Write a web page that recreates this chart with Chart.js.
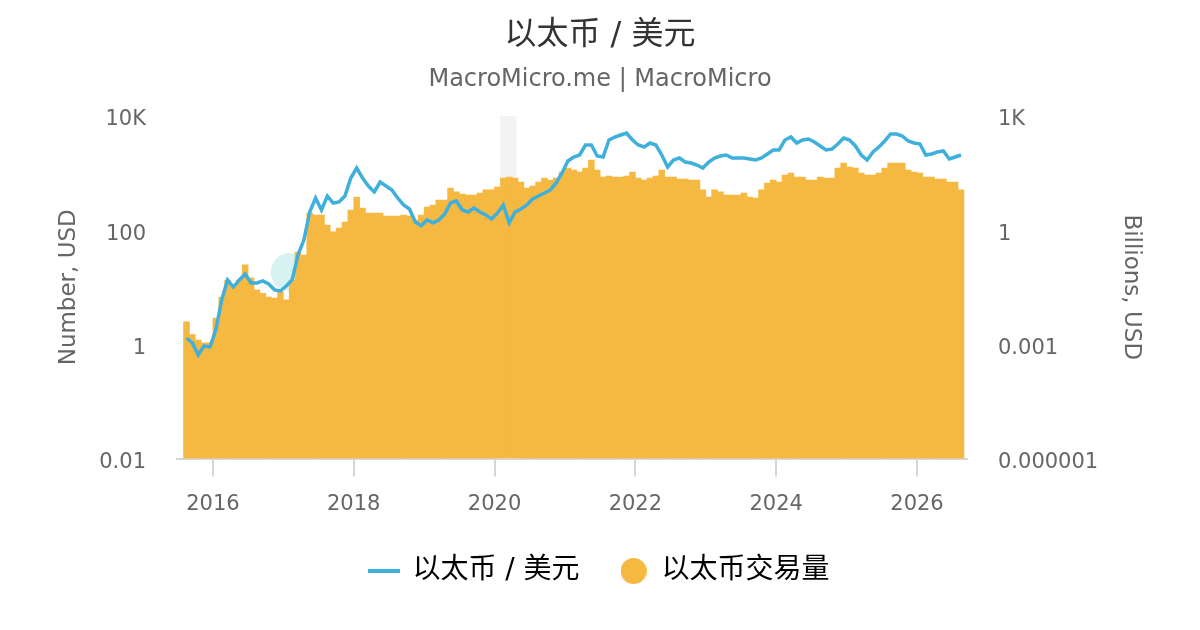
<!DOCTYPE html>
<html>
<head>
<meta charset="utf-8">
<title>以太币 / 美元</title>
<script src="https://cdn.jsdelivr.net/npm/chart.js@4.4.1/dist/chart.umd.min.js"></script>
<style>
  html, body { margin: 0; padding: 0; background: #fff; }
  #wrap { width: 1200px; height: 630px; }
</style>
</head>
<body>
<div id="wrap"><canvas id="chart" width="1200" height="630"></canvas></div>
<script>
// monthly series, Aug 2015 .. Aug 2026
const firstMonth = { year: 2015, month: 8 };

// ETH / USD (monthly)
const ethPrice = [
  1.29, 1.06, 0.65, 0.94, 0.90, 1.79, 6.0, 13.4, 10.1, 13.4,
  17.1, 11.9, 11.9, 12.9, 11.4, 9.0, 8.6, 10.5, 13.4, 36.8,
  67, 208, 366, 226, 397, 299, 312, 397, 820, 1228,
  820, 594, 467, 698, 594, 506, 366, 276, 235, 139,
  119, 151, 134, 151, 192, 299, 325, 226, 208, 245,
  208, 185, 157, 200, 276, 134, 208, 235, 276, 352,
  397, 448, 506, 671, 1005, 1630, 1914, 2075, 3105, 3105,
  1993, 1914, 3800, 4285, 4645, 5035, 3800, 3105, 2865, 3365,
  3105, 2075, 1279, 1695, 1837, 1565, 1503, 1386, 1228, 1565,
  1837, 1993, 2075, 1837, 1837, 1837, 1766, 1695, 1837, 2160,
  2540, 2540, 3800, 4285, 3365, 3800, 3955, 3505, 2985, 2540,
  2642, 3235, 4120, 3800, 2985, 2075, 1695, 2345, 2865, 3650,
  4840, 4840, 4465, 3650, 3365, 3235, 2075, 2160, 2345, 2440,
  1766, 1914, 2075
];

// ETH trading volume, billions USD
const ethVolume = [
  0.0039, 0.0018, 0.0013, 0.0011, 0.0011, 0.0049, 0.0175, 0.049, 0.032, 0.049,
  0.122, 0.056, 0.027, 0.022, 0.0175, 0.0165, 0.024, 0.0147, 0.049, 0.267,
  0.223, 2.83, 2.51, 2.51, 1.37, 0.90, 1.14, 1.64, 3.39, 7.45,
  3.83, 2.83, 2.83, 2.83, 2.36, 2.36, 2.36, 2.51, 2.36, 1.85,
  2.51, 4.06, 4.59, 6.21, 6.21, 12.8, 10.1, 8.93, 8.40, 8.40,
  9.48, 11.4, 11.4, 13.6, 23.5, 24.9, 23.5, 18.4, 12.8, 14.5,
  18.4, 23.5, 20.8, 23.5, 33.8, 43.0, 38.1, 33.8, 43.0, 69.8,
  38.1, 24.9, 26.5, 24.9, 24.9, 26.5, 33.8, 23.5, 20.8, 23.5,
  26.5, 38.1, 24.9, 24.9, 22.1, 22.1, 20.8, 20.8, 11.4, 7.45,
  11.4, 10.1, 8.40, 8.40, 8.40, 9.48, 7.45, 7.01, 11.4, 17.4,
  20.8, 18.4, 28.2, 31.8, 24.9, 24.9, 20.8, 20.8, 24.9, 23.5,
  23.5, 43.0, 58.2, 45.7, 43.0, 31.8, 28.2, 28.2, 31.8, 43.0,
  58.2, 58.2, 58.2, 38.1, 33.8, 31.8, 24.9, 24.9, 22.1, 22.1,
  18.4, 18.4, 11.4
];

const yearTicks = [2016, 2018, 2020, 2022, 2024, 2026];
const yearLabels = ['2016', '2018', '2020', '2022', '2024', '2026'];
const priceTicks = [0.01, 1, 100, 10000];
const priceTickLabels = ['0.01', '1', '100', '10K'];
const volumeTicks = [0.000001, 0.001, 1, 1000];
const volumeTickLabels = ['0.000001', '0.001', '1', '1K'];

const recessionBands = [[2020.08, 2020.31]];
const haloPoint = [{ x: 2017.09, y: 18.5 }];

const LINE_COLOR = '#3fafdc';
const BAR_COLOR = '#f5b942';
const FONT = '"DejaVu Sans", "Noto Sans CJK SC", sans-serif';

Chart.defaults.font.family = FONT;
Chart.defaults.color = '#666';

// month centres as decimal years
const monthX = ethPrice.map((_, i) => firstMonth.year + (firstMonth.month - 1 + i + 0.5) / 12);

// legend symbols: short thick line, round dot
function lineSymbol() {
    const c = document.createElement('canvas');
    c.width = 32; c.height = 4;
    const g = c.getContext('2d');
    g.fillStyle = LINE_COLOR;
    g.fillRect(0, 0, 32, 4);
    return c;
}
function dotSymbol() {
    const c = document.createElement('canvas');
    c.width = 26; c.height = 26;
    const g = c.getContext('2d');
    g.fillStyle = BAR_COLOR;
    g.beginPath();
    g.arc(13, 13, 13, 0, Math.PI * 2);
    g.fill();
    return c;
}

const bandPlugin = {
    id: 'bands',
    beforeDatasetsDraw(chart) {
        const { ctx, chartArea, scales: { x } } = chart;
        ctx.save();
        ctx.fillStyle = '#f2f3f3';
        recessionBands.forEach(([from, to]) => {
            const x0 = x.getPixelForValue(from);
            const x1 = x.getPixelForValue(to);
            ctx.fillRect(x0, chartArea.top, x1 - x0, chartArea.bottom - chartArea.top);
        });
        ctx.restore();
    }
};

new Chart(document.getElementById('chart'), {
    type: 'bar',
    data: {
        datasets: [
            {
                type: 'line',
                label: '以太币 / 美元',
                data: monthX.map((x, i) => ({ x, y: ethPrice[i] })),
                borderColor: LINE_COLOR,
                borderWidth: 3.5,
                pointRadius: 0,
                tension: 0,
                fill: false,
                yAxisID: 'y',
                order: 0
            },
            {
                type: 'bar',
                label: '以太币交易量',
                data: monthX.map((x, i) => ({ x, y: ethVolume[i] })),
                backgroundColor: BAR_COLOR,
                borderWidth: 0,
                barPercentage: 1,
                categoryPercentage: 1,
                yAxisID: 'y1',
                order: 1
            },
            {
                type: 'scatter',
                label: 'halo',
                data: haloPoint,
                pointRadius: 19,
                backgroundColor: '#d7f3f1',
                borderWidth: 0,
                yAxisID: 'y',
                order: 2
            }
        ]
    },
    options: {
        responsive: false,
        animation: false,
        layout: { padding: { top: 0, left: 0, right: 0, bottom: 35 } },
        scales: {
            x: {
                type: 'linear',
                min: 2015.49,
                max: 2026.71,
                offset: false,
                afterBuildTicks: s => { s.ticks = yearTicks.map(v => ({ value: v })); },
                ticks: {
                    callback: v => yearLabels[yearTicks.indexOf(v)],
                    font: { size: 21 },
                    color: '#666',
                    padding: 15,
                    maxRotation: 0,
                    autoSkip: false
                },
                grid: { offset: false, drawOnChartArea: false, drawTicks: true, tickLength: 18, color: '#d6d6d6', lineWidth: 2 },
                border: { display: true, color: '#d6d6d6', width: 2 },
                afterFit: s => { s.height = 58.5; }
            },
            y: {
                type: 'logarithmic',
                position: 'left',
                min: 0.01,
                max: 10000,
                afterBuildTicks: s => { s.ticks = priceTicks.map(v => ({ value: v })); },
                ticks: {
                    callback: v => priceTickLabels[priceTicks.indexOf(v)],
                    font: { size: 21 },
                    color: '#666',
                    padding: 31,
                    labelOffset: 4,
                    autoSkip: false
                },
                grid: { display: false, drawTicks: false },
                border: { display: false },
                title: { display: true, text: 'Number, USD', color: '#666', font: { size: 23 }, padding: { top: 55, bottom: 0 } },
                afterFit: s => { s.width = 177; }
            },
            y1: {
                type: 'logarithmic',
                position: 'right',
                min: 0.000001,
                max: 1000,
                afterBuildTicks: s => { s.ticks = volumeTicks.map(v => ({ value: v })); },
                ticks: {
                    callback: v => volumeTickLabels[volumeTicks.indexOf(v)],
                    font: { size: 21 },
                    color: '#666',
                    padding: 31,
                    labelOffset: 4,
                    autoSkip: false
                },
                grid: { display: false, drawTicks: false },
                border: { display: false },
                title: { display: true, text: 'Billions, USD', color: '#666', font: { size: 23 }, padding: { top: 55, bottom: 0 } },
                afterFit: s => { s.width = 233; }
            }
        },
        plugins: {
            title: {
                display: true,
                text: '以太币 / 美元',
                color: '#333',
                font: { size: 32, weight: 'normal' },
                padding: { top: 16, bottom: 0 }
            },
            subtitle: {
                display: true,
                text: 'MacroMicro.me | MacroMicro',
                color: '#666',
                font: { size: 24, weight: 'normal' },
                padding: { top: 11.2, bottom: 21.6 }
            },
            legend: {
                position: 'bottom',
                labels: {
                    usePointStyle: true,
                    boxHeight: 18,
                    padding: 40,
                    color: '#1a1a1a',
                    font: { size: 28 },
                    generateLabels: () => [
                        { text: '以太币 / 美元', pointStyle: lineSymbol(), strokeStyle: LINE_COLOR, fillStyle: LINE_COLOR, lineWidth: 0, datasetIndex: 0, hidden: false },
                        { text: '以太币交易量', pointStyle: dotSymbol(), strokeStyle: BAR_COLOR, fillStyle: BAR_COLOR, lineWidth: 0, datasetIndex: 1, hidden: false }
                    ]
                }
            },
            tooltip: { enabled: false }
        }
    },
    plugins: [bandPlugin]
});
</script>
</body>
</html>
